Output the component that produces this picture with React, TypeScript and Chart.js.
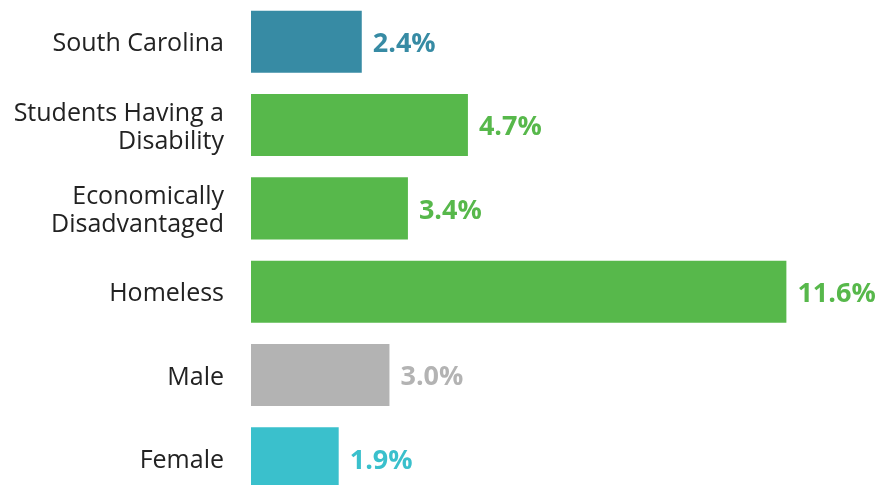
import React, { useEffect, useRef } from "react";
import { Chart, registerables } from "chart.js";

Chart.register(...registerables);

const categories: (string | string[])[] = [
  "South Carolina",
  ["Students Having a", "Disability"],
  ["Economically", "Disadvantaged"],
  "Homeless",
  "Male",
  "Female",
];
const values = [2.4, 4.7, 3.4, 11.6, 3.0, 1.9];
const barColors = ["#378BA4", "#57B84B", "#57B84B", "#57B84B", "#B3B3B3", "#3AC0CC"];
const valueLabels = ["2.4%", "4.7%", "3.4%", "11.6%", "3.0%", "1.9%"];

const FONT = "'Open Sans', sans-serif";

const valueLabelPlugin = {
  id: "valueLabels",
  afterDatasetsDraw(chart: any) {
    const ctx = chart.ctx;
    const meta = chart.getDatasetMeta(0);
    ctx.save();
    ctx.font = `bold 27px ${FONT}`;
    ctx.textAlign = "left";
    ctx.textBaseline = "middle";
    meta.data.forEach((bar: any, i: number) => {
      ctx.fillStyle = barColors[i];
      ctx.fillText(valueLabels[i], bar.x + 11, bar.y + 2.5);
    });
    ctx.restore();
  },
};

export default function App() {
  const ref = useRef<HTMLCanvasElement | null>(null);
  useEffect(() => {
    if (!ref.current) return;
    const chart = new Chart(ref.current, {
      type: "bar",
      data: {
        labels: categories,
        datasets: [
          {
            data: values,
            backgroundColor: barColors,
            barPercentage: 0.745,
            categoryPercentage: 1,
          },
        ],
      },
      options: {
        indexAxis: "y",
        animation: false,
        responsive: false,
        layout: { padding: { top: 0, bottom: 0, left: 0, right: 27 } },
        plugins: { legend: { display: false }, tooltip: { enabled: false } },
        scales: {
          x: {
            display: false,
            min: 0,
            max: 13,
          },
          y: {
            afterFit(scale: any) {
              scale.width = 251;
              scale.paddingTop = 0;
              scale.paddingBottom = 0;
            },
            grid: { display: false, drawTicks: false },
            border: { display: false },
            ticks: {
              padding: 27,
              labelOffset: 2.5,
              color: "#222222",
              font: { family: FONT, size: 25, lineHeight: 1.12 },
            },
          },
        },
      },
      plugins: [valueLabelPlugin],
    });
    return () => chart.destroy();
  }, []);
  return (
    <div style={{ position: "fixed", top: 0, left: 0, width: 878, height: 485, overflow: "hidden", background: "#fff" }}>
      <canvas ref={ref} width={878} height={500} style={{ display: "block", width: 878, height: 500 }} />
    </div>
  );
}
